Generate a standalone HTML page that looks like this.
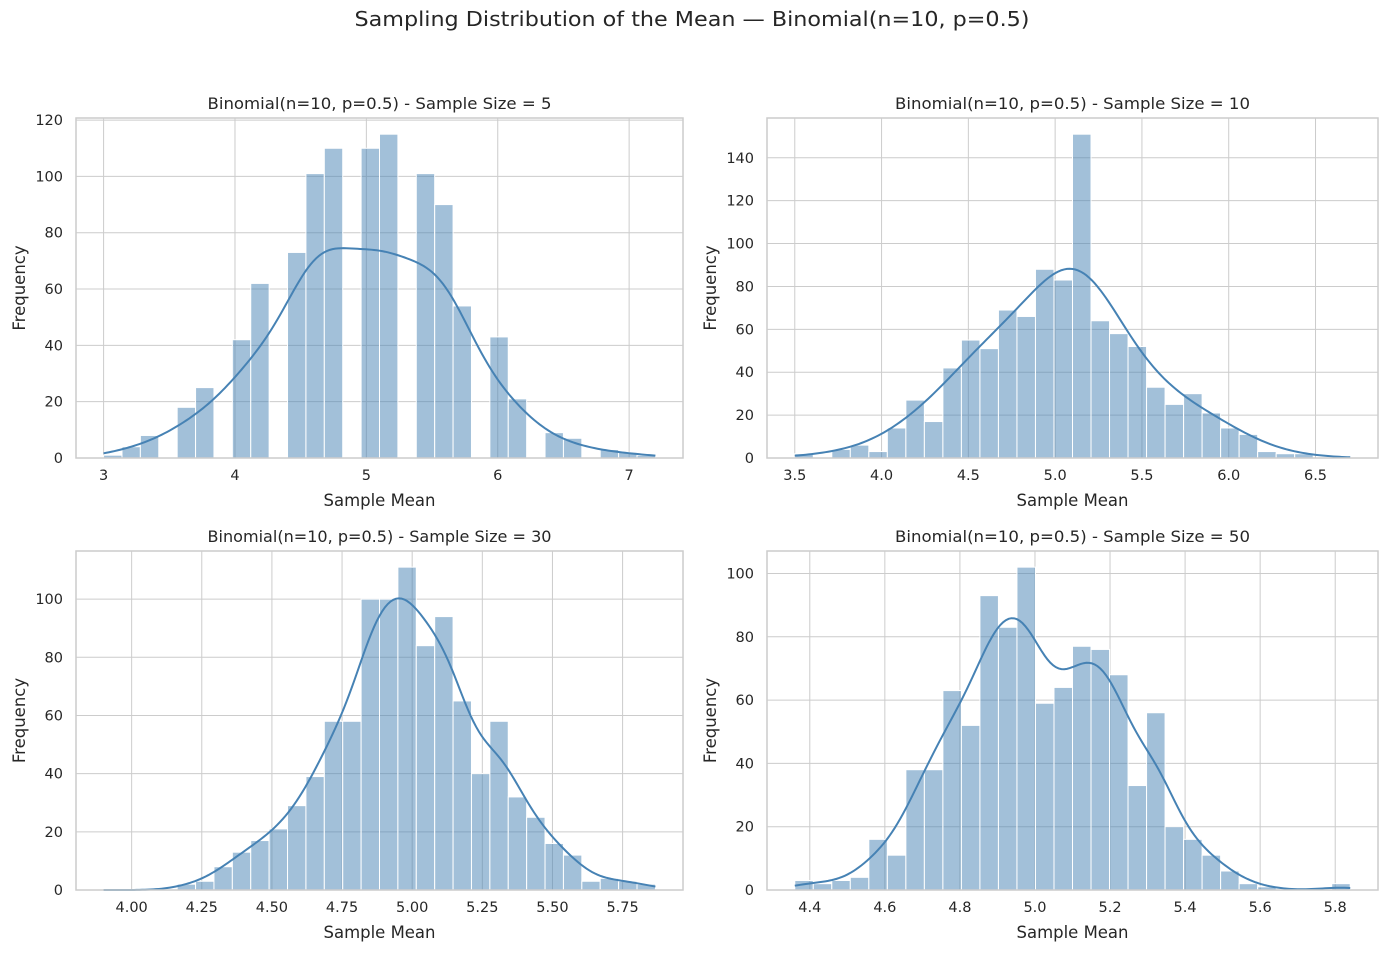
<!DOCTYPE html>
<html><head><meta charset="utf-8"><style>
html,body{margin:0;padding:0;background:#fff;}
svg text{font-family:"DejaVu Sans","Liberation Sans",sans-serif;fill:#262626;}
</style></head><body>
<svg id="fig" width="1384" height="952" viewBox="0 0 1384 952" xmlns="http://www.w3.org/2000/svg">
<text x="692" y="26" font-size="20" text-anchor="middle" textLength="675" lengthAdjust="spacingAndGlyphs">Sampling Distribution of the Mean — Binomial(n=10, p=0.5)</text>
</svg>
<script>
// Panel data (30 bins each)
const sampleSizes = [5, 10, 30, 50];
const binMin = [3.0, 3.5, 3.9, 4.36];
const binMax = [7.2, 6.7, 5.867, 5.84];
const counts5 = [1,4,8,0,18,25,0,42,62,0,73,101,110,0,110,115,0,101,90,54,0,43,21,0,9,7,0,3,2,1];
const counts10 = [2,0,4,6,3,14,27,17,42,55,51,69,66,88,83,151,64,58,52,33,25,30,21,14,11,3,2,2,0,0];
const counts30 = [0,0,0,0,2,3,8,13,17,21,29,39,58,58,100,100,111,84,94,65,40,58,32,25,16,12,3,4,3,2];
const counts50 = [3,2,3,4,16,11,38,38,63,52,93,83,102,59,64,77,76,68,33,56,20,16,11,6,2,1,0,0,0,2];
const kdeBandwidth = [0.24, 0.2, 0, 0]; // 0 = Scott's rule
const xTicks5 = [3,4,5,6,7];
const xTicks10 = [3.5,4.0,4.5,5.0,5.5,6.0,6.5];
const xTicks30 = [4.00,4.25,4.50,4.75,5.00,5.25,5.50,5.75];
const xTicks50 = [4.4,4.6,4.8,5.0,5.2,5.4,5.6,5.8];
const yTicks5 = [0,20,40,60,80,100,120];
const yTicks10 = [0,20,40,60,80,100,120,140];
const yTicks30 = [0,20,40,60,80,100];
const yTicks50 = [0,20,40,60,80,100];
const xDec = [0,1,2,1];

const NS = "http://www.w3.org/2000/svg";
const svg = document.getElementById('fig');
function mk(tag, attrs, parent){const e=document.createElementNS(NS,tag);for(const k in attrs)e.setAttribute(k,attrs[k]);(parent||svg).appendChild(e);return e;}

const panels = [
 {L:76,R:683,T:118,B:458,counts:counts5,xt:xTicks5,yt:yTicks5},
 {L:767,R:1378,T:118,B:458,counts:counts10,xt:xTicks10,yt:yTicks10},
 {L:76,R:683,T:551,B:890,counts:counts30,xt:xTicks30,yt:yTicks30},
 {L:767,R:1378,T:551,B:890,counts:counts50,xt:xTicks50,yt:yTicks50}
];

panels.forEach((p,i)=>{
  const g = mk('g',{});
  
  
  const lo=binMin[i], hi=binMax[i], nb=p.counts.length, w=(hi-lo)/nb;
  const xr=hi-lo, x0=lo-0.05*xr, x1=hi+0.05*xr;
  const X = v => p.L + (v-x0)/(x1-x0)*(p.R-p.L);
  const N = p.counts.reduce((a,b)=>a+b,0);
  let mean=0; p.counts.forEach((c,k)=>{mean+=c*(lo+(k+0.5)*w);}); mean/=N;
  let vr=0; p.counts.forEach((c,k)=>{const d=lo+(k+0.5)*w-mean; vr+=c*d*d;}); vr/=(N-1);
  const bw = kdeBandwidth[i] || Math.sqrt(vr)*Math.pow(N,-0.2);
  const kx=[], ky=[];
  for(let s=0;s<=200;s++){
    const xv=lo+(hi-lo)*s/200; let d=0;
    p.counts.forEach((c,k)=>{const z=(xv-(lo+(k+0.5)*w))/bw; d+=c*Math.exp(-0.5*z*z);});
    d = d/(N*bw*Math.sqrt(2*Math.PI));
    kx.push(xv); ky.push(d*N*w);
  }
  const ymax = Math.max(Math.max(...p.counts), Math.max(...ky))*1.05;
  const Y = v => p.B - v/ymax*(p.B-p.T);
  p.xt.forEach(t=>{
    const gl=mk('line',{x1:X(t),x2:X(t),y1:p.T,y2:p.B,stroke:'#cccccc','stroke-width':1},g);
     
    const tl=mk('text',{x:X(t),y:p.B+22,'font-size':14.5,'text-anchor':'middle'},g);
    tl.textContent=t.toFixed(xDec[i]);
     
  });
  p.yt.forEach(t=>{
    const gl=mk('line',{x1:p.L,x2:p.R,y1:Y(t),y2:Y(t),stroke:'#cccccc','stroke-width':1},g);
     
    const tl=mk('text',{x:p.L-13,y:Y(t)+5,'font-size':14.5,'text-anchor':'end'},g);
    tl.textContent=t;
     
  });
  p.counts.forEach((c,k)=>{
    if(c<=0) return;
    const r=mk('rect',{x:X(lo+k*w),y:Y(c),width:X(lo+(k+1)*w)-X(lo+k*w),height:p.B-Y(c),fill:'#4682b4','fill-opacity':0.5,stroke:'#ffffff','stroke-width':1},g);
     
  });
  let d=''; kx.forEach((xv,s)=>{d+=(s?'L':'M')+X(xv).toFixed(2)+','+Y(ky[s]).toFixed(2);});
  const kl=mk('path',{d:d,fill:'none',stroke:'#4682b4','stroke-width':2},g);
   
  const fr=mk('rect',{x:p.L,y:p.T,width:p.R-p.L,height:p.B-p.T,fill:'none',stroke:'#cccccc','stroke-width':1.5},g);
   
  const cx=(p.L+p.R)/2;
  const tt=mk('text',{x:cx,y:p.T-9,'font-size':16,'text-anchor':'middle',textLength:(i%2?355:344),lengthAdjust:'spacingAndGlyphs'},g);
  tt.textContent='Binomial(n=10, p=0.5) - Sample Size = '+sampleSizes[i];
   
  const xl=mk('text',{x:cx,y:p.B+48,'font-size':16.5,'text-anchor':'middle',textLength:112,lengthAdjust:'spacingAndGlyphs'},g);
  xl.textContent='Sample Mean';
   
  const yx = p.L-51, yy=(p.T+p.B)/2;
  const yl=mk('text',{x:yx,y:yy,'font-size':16.5,'text-anchor':'middle',transform:'rotate(-90 '+yx+' '+yy+')'},g);
  yl.textContent='Frequency';
   
});
</script>
</body></html>
